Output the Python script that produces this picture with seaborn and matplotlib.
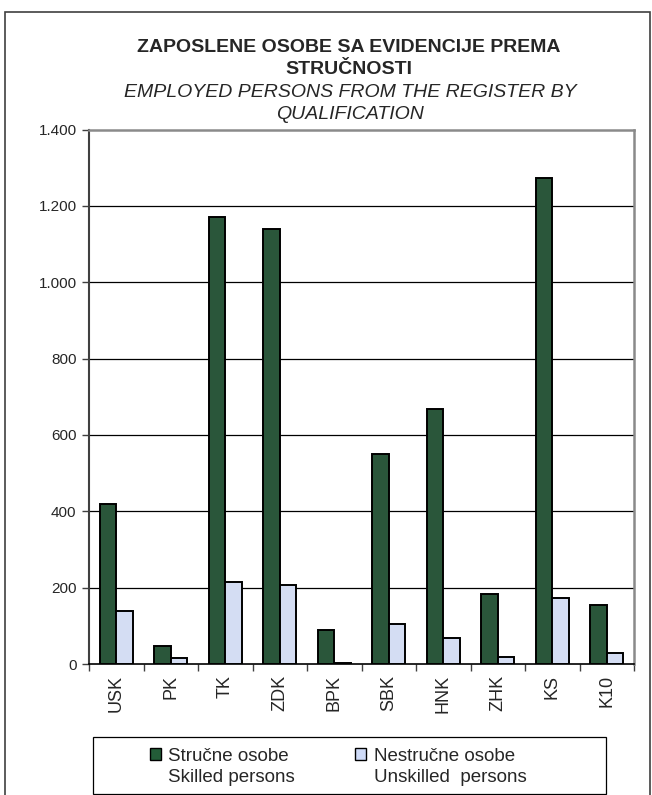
import matplotlib
matplotlib.use("Agg")
import matplotlib.pyplot as plt
import matplotlib.ticker as mticker
from matplotlib.patches import Rectangle, Patch
import seaborn as sns
import pandas as pd

regions = ["USK", "PK", "TK", "ZDK", "BPK", "SBK", "HNK", "ZHK", "KS", "K10"]
skilled = [419, 48, 1171, 1139, 89, 550, 667, 183, 1274, 155]
unskilled = [140, 17, 216, 207, 3, 104, 67, 18, 172, 28]
series_names = ["Stručne osobe", "Nestručne osobe"]
series_en = ["Skilled persons", "Unskilled  persons"]
yticks = [0, 200, 400, 600, 800, 1000, 1200, 1400]
title_bs = ["ZAPOSLENE OSOBE SA EVIDENCIJE PREMA", "STRUČNOSTI"]
title_en = ["EMPLOYED PERSONS FROM THE REGISTER BY", "QUALIFICATION"]

df = pd.DataFrame({
    "region": regions * 2,
    "value": skilled + unskilled,
    "series": [series_names[0]] * len(regions) + [series_names[1]] * len(regions),
})

sns.set_style("white")
plt.rcParams["font.family"] = ["Liberation Sans", "DejaVu Sans"]

W, H = 652, 795
fig = plt.figure(figsize=(W / 100, H / 100), dpi=100)
ax = fig.add_axes([89 / W, 1 - 664 / H, (634 - 89) / W, (664 - 129.5) / H])

colors = {"Stručne osobe": "#235d38", "Nestručne osobe": "#cfdbf8"}
sns.barplot(data=df, x="region", y="value", hue="series", order=regions,
            hue_order=series_names, palette=colors, width=0.6, gap=0,
            edgecolor="black", linewidth=1.4, ax=ax, legend=False, zorder=3)

ax.set_ylim(0, 1400)
ax.set_xlim(-0.5, len(regions) - 0.5)
ax.set_yticks(yticks)
ax.yaxis.set_major_formatter(mticker.FuncFormatter(lambda v, p: f"{v:,.0f}".replace(",", ".")))
ax.set_xlabel("")
ax.set_ylabel("")
for v in yticks[1:-1]:
    ax.axhline(v, color="black", lw=0.9, zorder=1)

ax.tick_params(axis="y", which="major", length=5, width=1, color="#404040",
               labelsize=11, pad=4, left=True)
ax.tick_params(axis="x", which="major", length=0, labelsize=13, pad=8,
               labelrotation=90)
ax.set_xticks([i - 0.5 for i in range(len(regions) + 1)], minor=True)
ax.tick_params(axis="x", which="minor", length=5, width=1, color="#404040",
               bottom=True, direction="out")
for lbl in ax.get_xticklabels():
    lbl.set_va("top")

ax.spines["left"].set_color("#404040")
ax.spines["left"].set_linewidth(1.5)
ax.spines["bottom"].set_color("black")
ax.spines["bottom"].set_linewidth(1.2)
for s in ["top", "right"]:
    ax.spines[s].set_color("#8a8a8a")
    ax.spines[s].set_linewidth(1.8)

# title lines (baselines in pixels from top)
for txt, yb in zip(title_bs, [51.7, 74.3]):
    fig.text(349 / W, 1 - yb / H, txt, ha="center", va="baseline",
             fontsize=14, fontweight="bold")
for txt, yb in zip(title_en, [96.7, 119.3]):
    fig.text(350 / W, 1 - yb / H, txt, ha="center", va="baseline",
             fontsize=14, style="italic")

# legend
handles = [
    Patch(facecolor=colors[series_names[0]], edgecolor="black", lw=1),
    Patch(facecolor="none", edgecolor="none"),
    Patch(facecolor=colors[series_names[1]], edgecolor="black", lw=1),
    Patch(facecolor="none", edgecolor="none"),
]
labels = [series_names[0], series_en[0], series_names[1], series_en[1]]
fig.legend(handles, labels, ncol=2, loc="center",
           bbox_to_anchor=(338 / W, 1 - 767 / H), frameon=False, fontsize=13.5,
           handlelength=0.6, handleheight=0.6, handletextpad=0.4,
           columnspacing=3.2, labelspacing=0.25)
fig.add_artist(Rectangle((93 / W, 1 - 794 / H), (606 - 93) / W, (794 - 737) / H,
                         transform=fig.transFigure, fill=False, edgecolor="black", lw=0.9))

# outer chart border
fig.add_artist(Rectangle((5 / W, -0.02), (650 - 5) / W, 1 - 12 / H + 0.02,
                         transform=fig.transFigure, fill=False, edgecolor="#404040", lw=1.2))

fig.savefig("out.png", dpi=100)
